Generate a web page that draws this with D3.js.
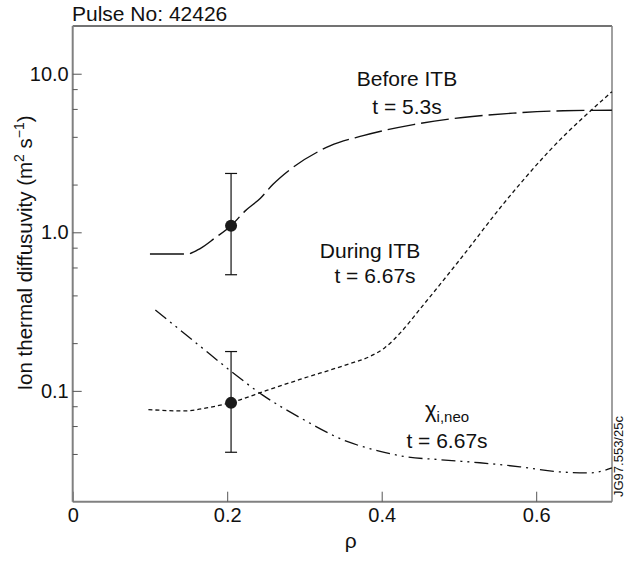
<!DOCTYPE html>
<html>
<head>
<meta charset="utf-8">
<script src="https://cdn.jsdelivr.net/npm/d3@7"></script>
<style>
  body { margin: 0; background: #fff; }
  text { font-family: "Liberation Sans", Arial, sans-serif; fill: #111; }
</style>
</head>
<body>
<svg id="chart" width="633" height="561"></svg>
<script>
// curve data (rho, chi_i in m^2/s)
const rhoBefore = [0.10, 0.148, 0.165, 0.184, 0.205, 0.223, 0.243, 0.259, 0.281, 0.320, 0.333, 0.376, 0.441, 0.505, 0.570, 0.635, 0.698];
const chiBefore = [0.73, 0.73, 0.79, 0.92, 1.10, 1.36, 1.64, 2.00, 2.48, 3.27, 3.51, 4.07, 4.78, 5.30, 5.64, 5.84, 5.89];

const rhoDuring = [0.098, 0.143, 0.178, 0.205, 0.252, 0.294, 0.356, 0.385, 0.404, 0.424, 0.450, 0.502, 0.557, 0.618, 0.698];
const chiDuring = [0.0762, 0.0747, 0.0788, 0.0844, 0.101, 0.118, 0.147, 0.165, 0.187, 0.232, 0.330, 0.680, 1.50, 3.30, 7.7];

const rhoNeo = [0.107, 0.165, 0.205, 0.245, 0.294, 0.356, 0.398, 0.430, 0.476, 0.527, 0.579, 0.631, 0.670, 0.698];
const chiNeo = [0.324, 0.191, 0.133, 0.0947, 0.0679, 0.0478, 0.0416, 0.0385, 0.0368, 0.0352, 0.0332, 0.0308, 0.0304, 0.0327];

// error bars
const errRho = [0.205, 0.205];
const errVal = [1.10, 0.084];
const errLo = [0.54, 0.041];
const errHi = [2.35, 0.177];

const xTicks = [0, 0.2, 0.4, 0.6];
const xTickLabels = ["0", "0.2", "0.4", "0.6"];
const yMajor = [0.1, 1, 10];
const yMajorLabels = ["0.1", "1.0", "10.0"];
const yMinor = [0.04, 0.06, 0.08, 0.2, 0.4, 0.6, 0.8, 2, 4, 6, 8];

const plotLeft = 72.7, plotRight = 612, plotTop = 26, plotBottom = 501.7;
const axisColor = "#808080";

const svg = d3.select("#chart");

const x = d3.scaleLinear().domain([0, 0.7]).range([plotLeft, plotLeft + 0.7 * 772.5]);
const y = d3.scaleLog().domain([0.02, 20]).range([plotBottom, plotTop]);

// frame
svg.append("line").attr("x1", plotLeft).attr("x2", plotRight).attr("y1", plotTop).attr("y2", plotTop)
  .attr("stroke", "#444").attr("stroke-width", 1.5);
svg.append("line").attr("x1", plotRight).attr("x2", plotRight).attr("y1", plotTop).attr("y2", plotBottom)
  .attr("stroke", axisColor).attr("stroke-width", 1.5);

// x axis (ticks pointing inward)
const xAxis = svg.append("g").attr("transform", "translate(0," + plotBottom + ")")
  .call(d3.axisBottom(x).tickValues(xTicks).tickSize(-10).tickFormat((d, i) => xTickLabels[i]));
xAxis.select(".domain").attr("d", "M" + plotLeft + ",0H" + plotRight).attr("stroke", axisColor).attr("stroke-width", 2);
xAxis.selectAll(".tick line").attr("stroke", "#555").attr("stroke-width", 1);
xAxis.selectAll(".tick text").attr("dy", null).attr("y", 20)
  .style("font-size", "20px").style("font-family", "Liberation Sans, Arial, sans-serif").attr("fill", "#111");

// y axis major
const yAxis = svg.append("g").attr("transform", "translate(" + plotLeft + ",0)")
  .call(d3.axisLeft(y).tickValues(yMajor).tickSize(-9).tickPadding(4).tickFormat((d, i) => yMajorLabels[i]));
yAxis.select(".domain").attr("d", "M0," + plotTop + "V" + plotBottom).attr("stroke", axisColor).attr("stroke-width", 2);
yAxis.selectAll(".tick line").attr("stroke", "#555").attr("stroke-width", 1);
yAxis.selectAll(".tick text").attr("x", -4)
  .style("font-size", "20px").style("font-family", "Liberation Sans, Arial, sans-serif").attr("fill", "#111");

// y axis minor
const yMinorAxis = svg.append("g").attr("transform", "translate(" + plotLeft + ",0)")
  .call(d3.axisLeft(y).tickValues(yMinor).tickSize(-5).tickFormat(""));
yMinorAxis.select(".domain").remove();
yMinorAxis.selectAll(".tick line").attr("stroke", "#555").attr("stroke-width", 1);

// curves
const line = d3.line().x(d => x(d[0])).y(d => y(d[1])).curve(d3.curveMonotoneX);

svg.append("path").datum(d3.zip(rhoBefore, chiBefore))
  .attr("d", line).attr("fill", "none").attr("stroke", "#111").attr("stroke-width", 1.4)
  .attr("stroke-dasharray", "34,6,28,6,28,6,28,6,28,6,28,6,28,6,28,6,28,6,28,6,28,6,28,6,28,6,28,6,28,6,28,6");

svg.append("path").datum(d3.zip(rhoDuring, chiDuring))
  .attr("d", line).attr("fill", "none").attr("stroke", "#111").attr("stroke-width", 1.3)
  .attr("stroke-dasharray", "4,3");

svg.append("path").datum(d3.zip(rhoNeo, chiNeo))
  .attr("d", line).attr("fill", "none").attr("stroke", "#111").attr("stroke-width", 1.3)
  .attr("stroke-dasharray", "14,5,2,5,2,5");

// error bars
const eb = svg.append("g").selectAll("g").data(d3.range(errRho.length)).join("g");
eb.append("line")
  .attr("x1", i => x(errRho[i])).attr("x2", i => x(errRho[i]))
  .attr("y1", i => y(errLo[i])).attr("y2", i => y(errHi[i]))
  .attr("stroke", "#111").attr("stroke-width", 1.2);
eb.append("line")
  .attr("x1", i => x(errRho[i]) - 6).attr("x2", i => x(errRho[i]) + 6)
  .attr("y1", i => y(errLo[i])).attr("y2", i => y(errLo[i]))
  .attr("stroke", "#111").attr("stroke-width", 1.2);
eb.append("line")
  .attr("x1", i => x(errRho[i]) - 6).attr("x2", i => x(errRho[i]) + 6)
  .attr("y1", i => y(errHi[i])).attr("y2", i => y(errHi[i]))
  .attr("stroke", "#111").attr("stroke-width", 1.2);
eb.append("circle")
  .attr("cx", i => x(errRho[i])).attr("cy", i => y(errVal[i])).attr("r", 6)
  .attr("fill", "#1a1a1a");

// text
svg.append("text").attr("x", 72).attr("y", 21).style("font-size", "21px").text("Pulse No: 42426");

const ann = [
  { t: "Before ITB", x: 407, y: 86 },
  { t: "t = 5.3s", x: 407, y: 114 },
  { t: "During ITB", x: 370, y: 258 },
  { t: "t = 6.67s", x: 375, y: 283 },
  { t: "t = 6.67s", x: 447, y: 448 }
];
svg.selectAll(".ann").data(ann).join("text").attr("class", "ann")
  .attr("x", d => d.x).attr("y", d => d.y).attr("text-anchor", "middle")
  .style("font-size", "21px").text(d => d.t);

const chi = svg.append("text").attr("x", 425).attr("y", 417).style("font-size", "22px");
chi.append("tspan").text("χ");
chi.append("tspan").attr("dy", 5).style("font-size", "15px").text("i,neo");

// axis titles
svg.append("text").attr("x", x(0.36)).attr("y", 548).attr("text-anchor", "middle")
  .style("font-size", "21px").text("ρ");

const yl = svg.append("text").attr("transform", "translate(32,253) rotate(-90)")
  .attr("text-anchor", "middle").style("font-size", "20.5px");
yl.append("tspan").text("Ion thermal diffusuvity (m");
yl.append("tspan").attr("dy", -8).style("font-size", "14px").text("2");
yl.append("tspan").attr("dy", 8).text(" s");
yl.append("tspan").attr("dy", -8).style("font-size", "14px").text("−1");
yl.append("tspan").attr("dy", 8).text(")");

svg.append("text").attr("transform", "translate(623,497) rotate(-90)")
  .style("font-size", "13px").text("JG97.553/25c");
</script>
</body>
</html>
